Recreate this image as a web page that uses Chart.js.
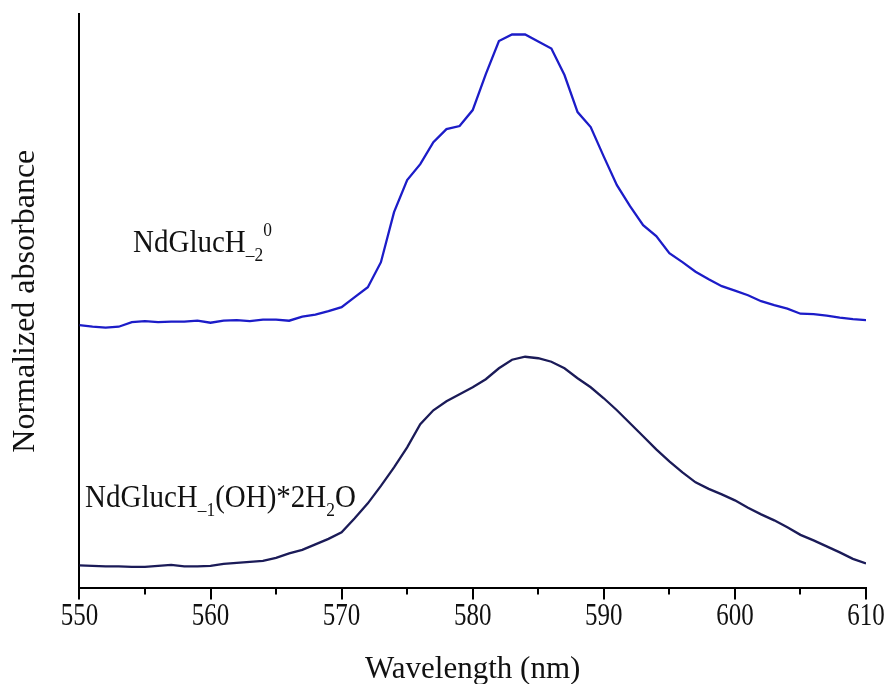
<!DOCTYPE html>
<html>
<head>
<meta charset="utf-8">
<script src="https://cdn.jsdelivr.net/npm/chart.js@4/dist/chart.umd.min.js"></script>
<style>
  html, body { margin: 0; padding: 0; background: #fff; }
  #wrap { width: 888px; height: 684px; }
</style>
</head>
<body>
<div id="wrap"><canvas id="absChart" width="888" height="684"></canvas></div>
<script>
// wavelength, nm (1 nm step)
const wavelengths = [
  550, 551, 552, 553, 554, 555, 556, 557, 558, 559,
  560, 561, 562, 563, 564, 565, 566, 567, 568, 569,
  570, 571, 572, 573, 574, 575, 576, 577, 578, 579,
  580, 581, 582, 583, 584, 585, 586, 587, 588, 589,
  590, 591, 592, 593, 594, 595, 596, 597, 598, 599,
  600, 601, 602, 603, 604, 605, 606, 607, 608, 609, 610
];

// NdGlucH-2 0 (offset upward)
const upperSeries = [
  2.63, 2.615, 2.605, 2.615, 2.66, 2.67, 2.66, 2.665, 2.665, 2.675,
  2.655, 2.675, 2.68, 2.67, 2.685, 2.685, 2.675, 2.715, 2.735, 2.77,
  2.81, 2.91, 3.01, 3.26, 3.76, 4.08, 4.24, 4.46, 4.59, 4.62,
  4.78, 5.14, 5.47, 5.535, 5.535, 5.465, 5.395, 5.13, 4.76, 4.61,
  4.315, 4.03, 3.82, 3.63, 3.52, 3.35, 3.26, 3.165, 3.09, 3.02,
  2.975, 2.93, 2.87, 2.83, 2.795, 2.745, 2.74, 2.725, 2.705, 2.69, 2.68
];

// NdGlucH-1(OH)*2H2O
const lowerSeries = [
  0.23, 0.225, 0.22, 0.22, 0.215, 0.215, 0.225, 0.235, 0.22, 0.22,
  0.225, 0.245, 0.255, 0.265, 0.275, 0.305, 0.35, 0.385, 0.44, 0.495,
  0.56, 0.70, 0.85, 1.025, 1.21, 1.41, 1.64, 1.78, 1.87, 1.94,
  2.01, 2.09, 2.20, 2.285, 2.315, 2.30, 2.265, 2.20, 2.10, 2.01,
  1.90, 1.78, 1.65, 1.52, 1.39, 1.27, 1.16, 1.06, 0.995, 0.94,
  0.88, 0.805, 0.74, 0.68, 0.61, 0.535, 0.48, 0.42, 0.36, 0.295, 0.25
];

const xMajorTicks = [550, 560, 570, 580, 590, 600, 610];
const xMinorTicks = [555, 565, 575, 585, 595, 605];

const SERIF = '"Liberation Serif", "Times New Roman", serif';

function toPoints(xs, ys) {
  return xs.map((x, i) => ({ x: x, y: ys[i] }));
}

// minor x ticks + tick labels (the figure's digits are a bit tall, so stretch them)
const xAxisPlugin = {
  id: "xAxisExtras",
  afterDraw(chart) {
    const ctx = chart.ctx;
    const xs = chart.scales.x;
    const y0 = chart.chartArea.bottom;
    ctx.save();
    ctx.strokeStyle = "#000";
    ctx.lineWidth = 2;
    xMinorTicks.forEach((v) => {
      const px = Math.round(xs.getPixelForValue(v));
      ctx.beginPath();
      ctx.moveTo(px, y0);
      ctx.lineTo(px, y0 + 6);
      ctx.stroke();
    });
    ctx.fillStyle = "#111";
    ctx.font = "25px " + SERIF;
    ctx.textAlign = "center";
    ctx.textBaseline = "alphabetic";
    xMajorTicks.forEach((v) => {
      const px = xs.getPixelForValue(v);
      ctx.save();
      ctx.translate(px, y0 + 37);
      ctx.scale(1, 1.28);
      ctx.fillText(String(v), 0, 0);
      ctx.restore();
    });
    ctx.restore();
  },
};

// draws text with sub/superscript parts: [text, kind]
function drawRich(ctx, parts, x, y, size) {
  let cx = 0;
  ctx.save();
  ctx.translate(x, y);
  ctx.scale(1, 1.1);
  parts.forEach(([txt, kind]) => {
    let fs = size, dy = 0;
    if (kind === "sub") { fs = size * 0.6; dy = size * 0.28; }
    if (kind === "sup") { fs = size * 0.6; dy = -size * 0.5; }
    ctx.font = fs + "px " + SERIF;
    ctx.fillText(txt, cx, dy);
    cx += ctx.measureText(txt).width;
  });
  ctx.restore();
}

const labelPlugin = {
  id: "seriesLabels",
  afterDraw(chart) {
    const ctx = chart.ctx;
    ctx.save();
    ctx.fillStyle = "#111";
    ctx.textBaseline = "alphabetic";
    ctx.textAlign = "left";
    drawRich(ctx, [["NdGlucH", ""], ["\u20132", "sub"], ["0", "sup"]], 133, 252, 29);
    drawRich(ctx, [["NdGlucH", ""], ["\u20131", "sub"], ["(OH)*2H", ""], ["2", "sub"], ["O", ""]], 85, 507, 29);
    ctx.restore();
  },
};

function initChart() {
  const ctx = document.getElementById("absChart");
  new Chart(ctx, {
    type: "line",
    data: {
      datasets: [
        {
          label: "NdGlucH-2",
          data: toPoints(wavelengths, upperSeries),
          borderColor: "#1c1cc8",
          borderWidth: 2.3,
          pointRadius: 0,
          tension: 0,
          fill: false,
        },
        {
          label: "NdGlucH-1(OH)*2H2O",
          data: toPoints(wavelengths, lowerSeries),
          borderColor: "#1b1b58",
          borderWidth: 2.3,
          pointRadius: 0,
          tension: 0,
          fill: false,
        },
      ],
    },
    options: {
      responsive: false,
      animation: false,
      layout: { padding: { top: 14, right: 22, left: 6, bottom: 0 } },
      plugins: {
        legend: { display: false },
        tooltip: { enabled: false },
      },
      scales: {
        x: {
          type: "linear",
          min: 550,
          max: 610,
          afterBuildTicks: (scale) => {
            scale.ticks = xMajorTicks.map((v) => ({ value: v }));
          },
          ticks: {
            color: "rgba(0,0,0,0)",
            font: { family: SERIF, size: 22 },
            padding: -2,
          },
          grid: {
            display: true,
            drawOnChartArea: false,
            tickLength: 11,
            color: "#000",
            lineWidth: 2,
          },
          border: { display: true, color: "#000", width: 2 },
          title: {
            display: true,
            text: "Wavelength (nm)",
            color: "#111",
            font: { family: SERIF, size: 31 },
            padding: { top: 29, bottom: -4 },
          },
        },
        y: {
          min: 0,
          max: 5.74,
          ticks: { display: false },
          grid: { display: false },
          border: { display: true, color: "#000", width: 2 },
          title: {
            display: true,
            text: "Normalized absorbance",
            color: "#111",
            font: { family: SERIF, size: 32 },
            padding: { top: 0, bottom: 27 },
          },
        },
      },
    },
    plugins: [xAxisPlugin, labelPlugin],
  });
}

document.addEventListener("DOMContentLoaded", initChart);
</script>
</body>
</html>
